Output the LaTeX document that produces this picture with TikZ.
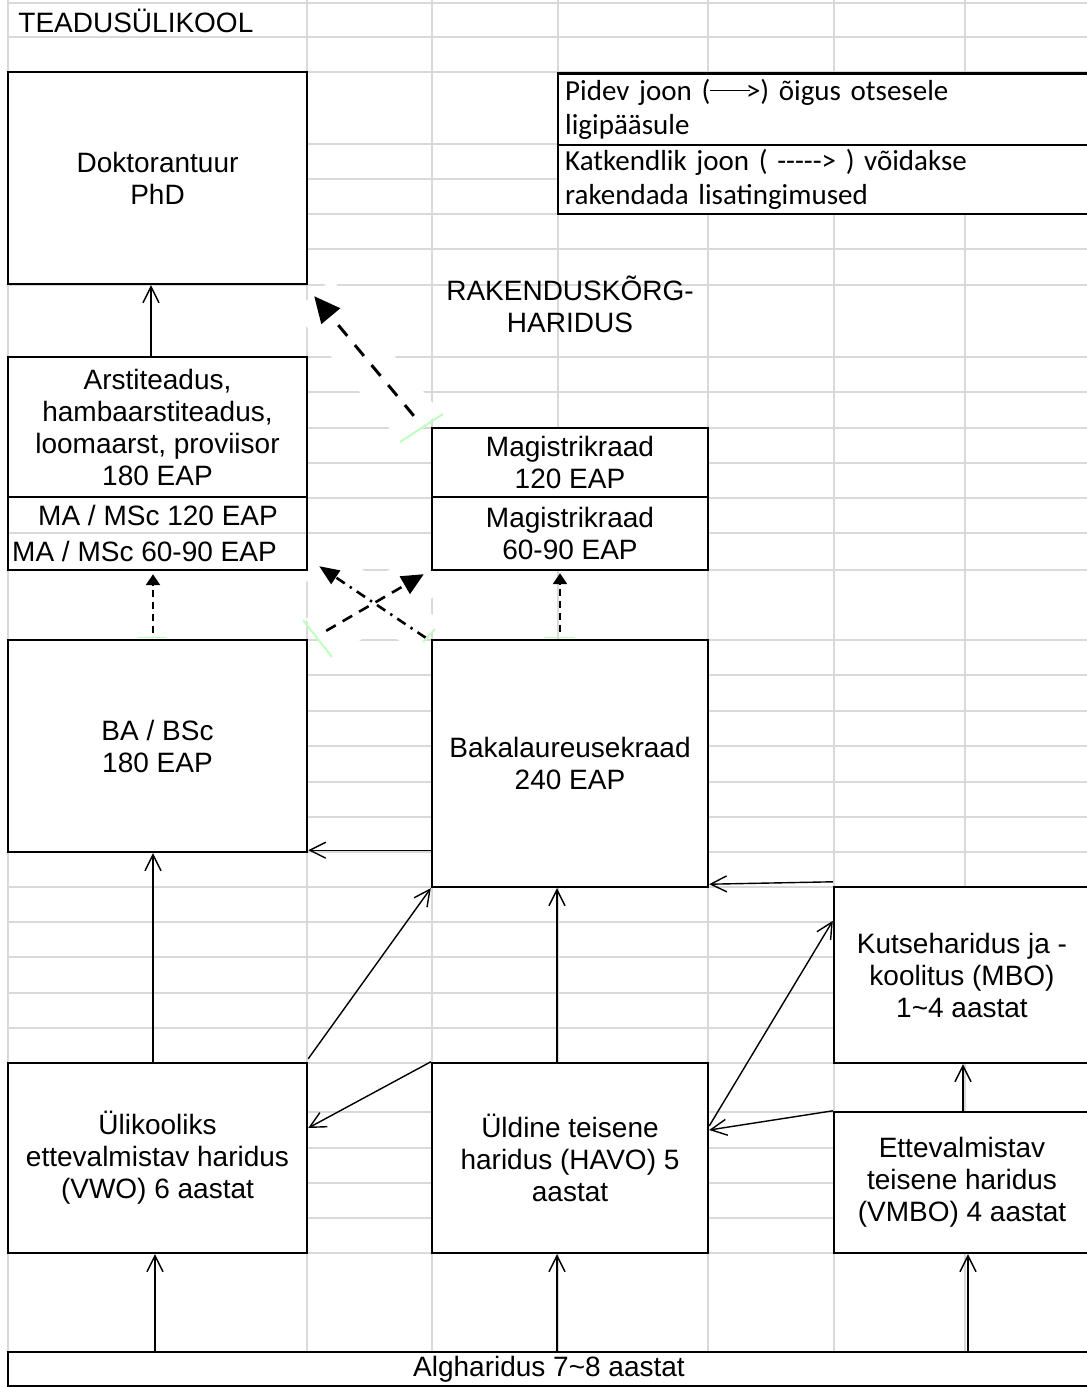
\documentclass[tikz,border=0pt]{standalone}
\usepackage{fontspec}
\setmainfont{Liberation Sans}
\newfontfamily\legendfont{Carlito}
\usetikzlibrary{arrows.meta,calc}
\newcommand\legendarrow{\rule[0.32em]{1.35em}{0.05em}\kern-0.12em>}
\tikzset{
  gridline/.style={black!15, line width=1pt},
  box/.style={draw, line width=1.2pt, fill=white, align=center, inner sep=0pt,
    font=\fontsize{14}{16}\selectfont},
  plain/.style={inner sep=0pt, align=center, font=\fontsize{14}{16}\selectfont},
  legendbox/.style={draw, line width=1.2pt, fill=white, anchor=west, align=left,
    text width=262pt, inner xsep=3.5pt, inner ysep=0pt,
    font=\legendfont\fontsize{14.5}{17}\selectfont},
  accessarrow/.style={-{Straight Barb[length=8pt,width=8pt]}, line width=0.7pt},
  bigdash/.style={line width=1.5pt, dash pattern=on 7pt off 6pt,
    -{Triangle[length=13pt,width=12pt]}},
  smalldash/.style={line width=1.3pt, dash pattern=on 3.5pt off 2.5pt,
    -{Triangle[length=5.5pt,width=7pt]}},
  crossdash/.style={line width=1.3pt, dash pattern=on 5.5pt off 4pt,
    -{Triangle[length=11pt,width=10pt]}},
  crossdashdot/.style={line width=1.3pt, dash pattern=on 5pt off 3pt on 1.2pt off 3pt,
    -{Triangle[length=10pt,width=8pt]}},
  band/.style={fill=white},
  greentick/.style={green!25, line width=1pt}
}
\begin{document}
\begin{tikzpicture}[x=0.5pt,y=-0.5pt]
\useasboundingbox (0,0) rectangle (1087,1387);
\clip (0,0) rectangle (1087,1387);
% spreadsheet grid
\foreach \x in {8,307,432,558,708,834,965}
  \draw[gridline] (\x,0) -- (\x,1387);
\foreach \y in {3,37,72,144,179,214,249,285,357,392,428,463,498,533,570,640,675,711,746,782,817,852,887,922,957,993,1028,1063,1112,1148,1183,1218,1253,1352}
  \draw[gridline] (8,\y) -- (1087,\y);
% pale selection bands
\fill[band] (440,412) -- (402,444) -- (294,311) -- (332,279) -- cycle;
\fill[band] (305.8,618.7) -- (329.2,658.3) -- (447.7,588.8) -- (424.3,549.2) -- cycle;
\fill[band] (440.2,619.5) -- (417.8,652.5) -- (300.8,577.5) -- (323.2,544.5) -- cycle;
% labels
\node[plain, anchor=west] (uni) at (18,21) {TEADUSÜLIKOOL};
\node[plain] (rak) at (570,304) {RAKENDUSKÕRG-\\HARIDUS};
% legend
\node[legendbox, minimum height=36pt] (leg1) at (557,109.5)
  {Pidev joon (\legendarrow) õigus otsesele\\ligipääsule};
\node[legendbox, minimum height=34.5pt] (leg2) at (557,179.5)
  {Katkendlik joon ( -{}-{}-{}-{}-> ) võidakse\\rakendada lisatingimused};
% boxes
\node[box, minimum width=149.5pt, minimum height=106pt] (phd) at (157.5,178) {Doktorantuur\\PhD};
\node[box, minimum width=149.5pt, minimum height=70pt] (arst) at (157.5,427)
  {Arstiteadus,\\hambaarstiteadus,\\loomaarst, proviisor\\180 EAP};
\node[box, minimum width=149.5pt, minimum height=36.5pt] (ma) at (157.5,533.5) {};
\draw[gridline] (9,533) -- (306,533);
\node[plain] (ma120) at (158,515) {MA / MSc 120 EAP};
\node[plain] (ma60) at (144.5,551) {MA / MSc 60-90 EAP};
\node[box, minimum width=138pt, minimum height=34.5pt] (mag120) at (570,462.5) {Magistrikraad\\120 EAP};
\node[box, minimum width=138pt, minimum height=36.5pt] (mag60) at (570,533.5) {Magistrikraad\\60-90 EAP};
\node[box, minimum width=149.5pt, minimum height=106pt] (ba) at (157.5,746) {BA / BSc\\180 EAP};
\node[box, minimum width=138pt, minimum height=123.5pt] (bak) at (570,763.5) {Bakalaureusekraad\\240 EAP};
\node[box, minimum width=128pt, minimum height=88pt] (kutse) at (962,975)
  {Kutseharidus ja -\\koolitus (MBO)\\1\textasciitilde 4 aastat};
\node[box, minimum width=149.5pt, minimum height=95pt] (vwo) at (157.5,1158)
  {Ülikooliks\\ettevalmistav haridus\\(VWO) 6 aastat};
\node[box, minimum width=138pt, minimum height=95pt] (havo) at (570,1158)
  {Üldine teisene\\haridus (HAVO) 5\\aastat};
\node[box, minimum width=128pt, minimum height=70.5pt] (ett) at (962,1182.5)
  {Ettevalmistav\\teisene haridus\\(VMBO) 4 aastat};
\node[box, minimum width=541pt, minimum height=17pt] (alg) at (549,1369) {Algharidus 7\textasciitilde 8 aastat};
% direct access
\draw[accessarrow] ([xshift=-3.25pt]arst.north) -- ([xshift=-3.25pt]phd.south);
\draw[accessarrow] ([xshift=-2.25pt]vwo.north) -- ([xshift=-2.25pt]ba.south);
\draw[accessarrow] ([yshift=19pt]bak.south west) -- ([yshift=1.5pt]ba.south east);
\draw[accessarrow] ([yshift=1.5pt]vwo.north east) -- (bak.south west);
\draw[accessarrow] ([xshift=-6.5pt]havo.north) -- ([xshift=-6.5pt]bak.south);
\draw[accessarrow] ([yshift=2pt]kutse.north west) -- ([yshift=2pt]bak.south east);
\draw[accessarrow] (havo.north west) -- ([yshift=15pt]vwo.east);
\draw[accessarrow] ([yshift=16pt]havo.east) -- ([yshift=-17.5pt]kutse.north west);
\draw[accessarrow] (ett.north west) -- ([yshift=14pt]havo.east);
\draw[accessarrow] ([xshift=0.5pt]ett.north) -- ([xshift=0.5pt]kutse.south);
\draw[accessarrow] ($(vwo.south |- alg.north)+(-2.5,0)$) -- ([xshift=-1.25pt]vwo.south);
\draw[accessarrow] ($(havo.south |- alg.north)+(-13,0)$) -- ([xshift=-6.5pt]havo.south);
\draw[accessarrow] ($(ett.south |- alg.north)+(6,0)$) -- ([xshift=3pt]ett.south);
% access with extra conditions
\draw[bigdash] ([shift={(-8.5pt,5.5pt)}]mag120.north west) -- ([shift={(3pt,-5.5pt)}]phd.south east);
\draw[smalldash] ([shift={(-2.25pt,3pt)}]ba.north) -- ([shift={(-2.25pt,-1.5pt)}]ma.south);
\draw[smalldash] ([shift={(-5pt,3.5pt)}]bak.north) -- ([shift={(-5pt,-1pt)}]mag60.south);
\draw[crossdash] ([shift={(9pt,4pt)}]ba.north east) -- ([shift={(-3.5pt,-1.5pt)}]mag60.south west);
\draw[crossdashdot] ([shift={(-2.5pt,0.5pt)}]bak.north west) -- ([shift={(5.5pt,2.5pt)}]ma.south east);
% selection handles
\draw[greentick] (400,442) -- (443,414);
\draw[greentick] (303,620) -- (332,657);
\draw[greentick] (423,642) -- (435,629);
\draw[greentick, line width=0.6pt] (138,637.5) -- (166,637.5);
\draw[greentick, line width=0.6pt] (544,637.5) -- (575,637.5);
\end{tikzpicture}
\end{document}
